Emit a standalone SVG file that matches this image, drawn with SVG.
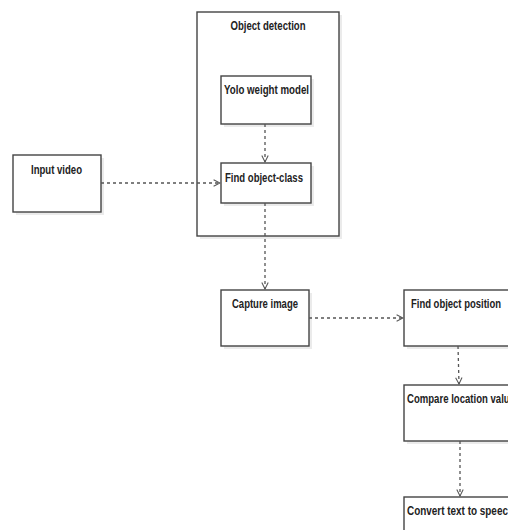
<svg xmlns="http://www.w3.org/2000/svg" width="508" height="530" viewBox="0 0 508 530">
<style>
.box{fill:#fff;stroke:#444;stroke-width:1.4}
.shadow{fill:#ebebeb}
.lbl{font-family:"Liberation Sans",Arial,sans-serif;font-size:13px;font-weight:bold;fill:#222}
.conn{fill:none;stroke:#555;stroke-width:1.3;stroke-dasharray:3,3}
</style>
<defs>
<marker id="open" viewBox="0 0 10 10" refX="9" refY="5" markerWidth="8" markerHeight="8" orient="auto" markerUnits="userSpaceOnUse">
<path d="M1,1 L9,5 L1,9" fill="none" stroke="#555" stroke-width="1.3"/>
</marker>
</defs>
<rect width="508" height="530" fill="#fff"/>
<g id="object-detection">
<rect class="shadow" x="200" y="15" width="142" height="224"/>
<rect class="box" x="197" y="12" width="142" height="224"/>
<text class="lbl" x="268" y="30" text-anchor="middle" textLength="75" lengthAdjust="spacingAndGlyphs">Object detection</text>
</g>
<g id="yolo-weight-model">
<rect class="shadow" x="224" y="79" width="90" height="48"/>
<rect class="box" x="221" y="76" width="90" height="48"/>
<text class="lbl" x="266.5" y="94" text-anchor="middle" textLength="85" lengthAdjust="spacingAndGlyphs">Yolo weight model</text>
</g>
<g id="find-object-class">
<rect class="shadow" x="224" y="166" width="90" height="40"/>
<rect class="box" x="221" y="163" width="90" height="40"/>
<text class="lbl" x="264" y="182" text-anchor="middle" textLength="78" lengthAdjust="spacingAndGlyphs">Find object-class</text>
</g>
<g id="input-video">
<rect class="shadow" x="16" y="158" width="88" height="57"/>
<rect class="box" x="13" y="155" width="88" height="57"/>
<text class="lbl" x="56.5" y="174" text-anchor="middle" textLength="51" lengthAdjust="spacingAndGlyphs">Input video</text>
</g>
<g id="capture-image">
<rect class="shadow" x="224" y="293" width="88" height="56"/>
<rect class="box" x="221" y="290" width="88" height="56"/>
<text class="lbl" x="265" y="308" text-anchor="middle" textLength="66" lengthAdjust="spacingAndGlyphs">Capture image</text>
</g>
<g id="find-object-position">
<rect class="shadow" x="407" y="293" width="130" height="56"/>
<rect class="box" x="404" y="290" width="130" height="56"/>
<text class="lbl" x="411" y="308" textLength="90" lengthAdjust="spacingAndGlyphs">Find object position</text>
</g>
<g id="compare-location-value">
<rect class="shadow" x="407" y="388" width="130" height="56"/>
<rect class="box" x="404" y="385" width="130" height="56"/>
<text class="lbl" x="407" y="403" textLength="108" lengthAdjust="spacingAndGlyphs">Compare location value</text>
</g>
<g id="convert-text-to-speech">
<rect class="shadow" x="407" y="500" width="130" height="56"/>
<rect class="box" x="404" y="497" width="130" height="56"/>
<text class="lbl" x="407" y="515" textLength="107" lengthAdjust="spacingAndGlyphs">Convert text to speech</text>
</g>
<g id="connectors">
<path class="conn" d="M265,124 L265,162" marker-end="url(#open)"/>
<path class="conn" d="M101,183 L220,183" marker-end="url(#open)"/>
<path class="conn" d="M265,203 L265,289" marker-end="url(#open)"/>
<path class="conn" d="M309,318 L403,318" marker-end="url(#open)"/>
<path class="conn" d="M458,346 L459,384" marker-end="url(#open)"/>
<path class="conn" d="M460,441 L460,496" marker-end="url(#open)"/>
</g>
</svg>
